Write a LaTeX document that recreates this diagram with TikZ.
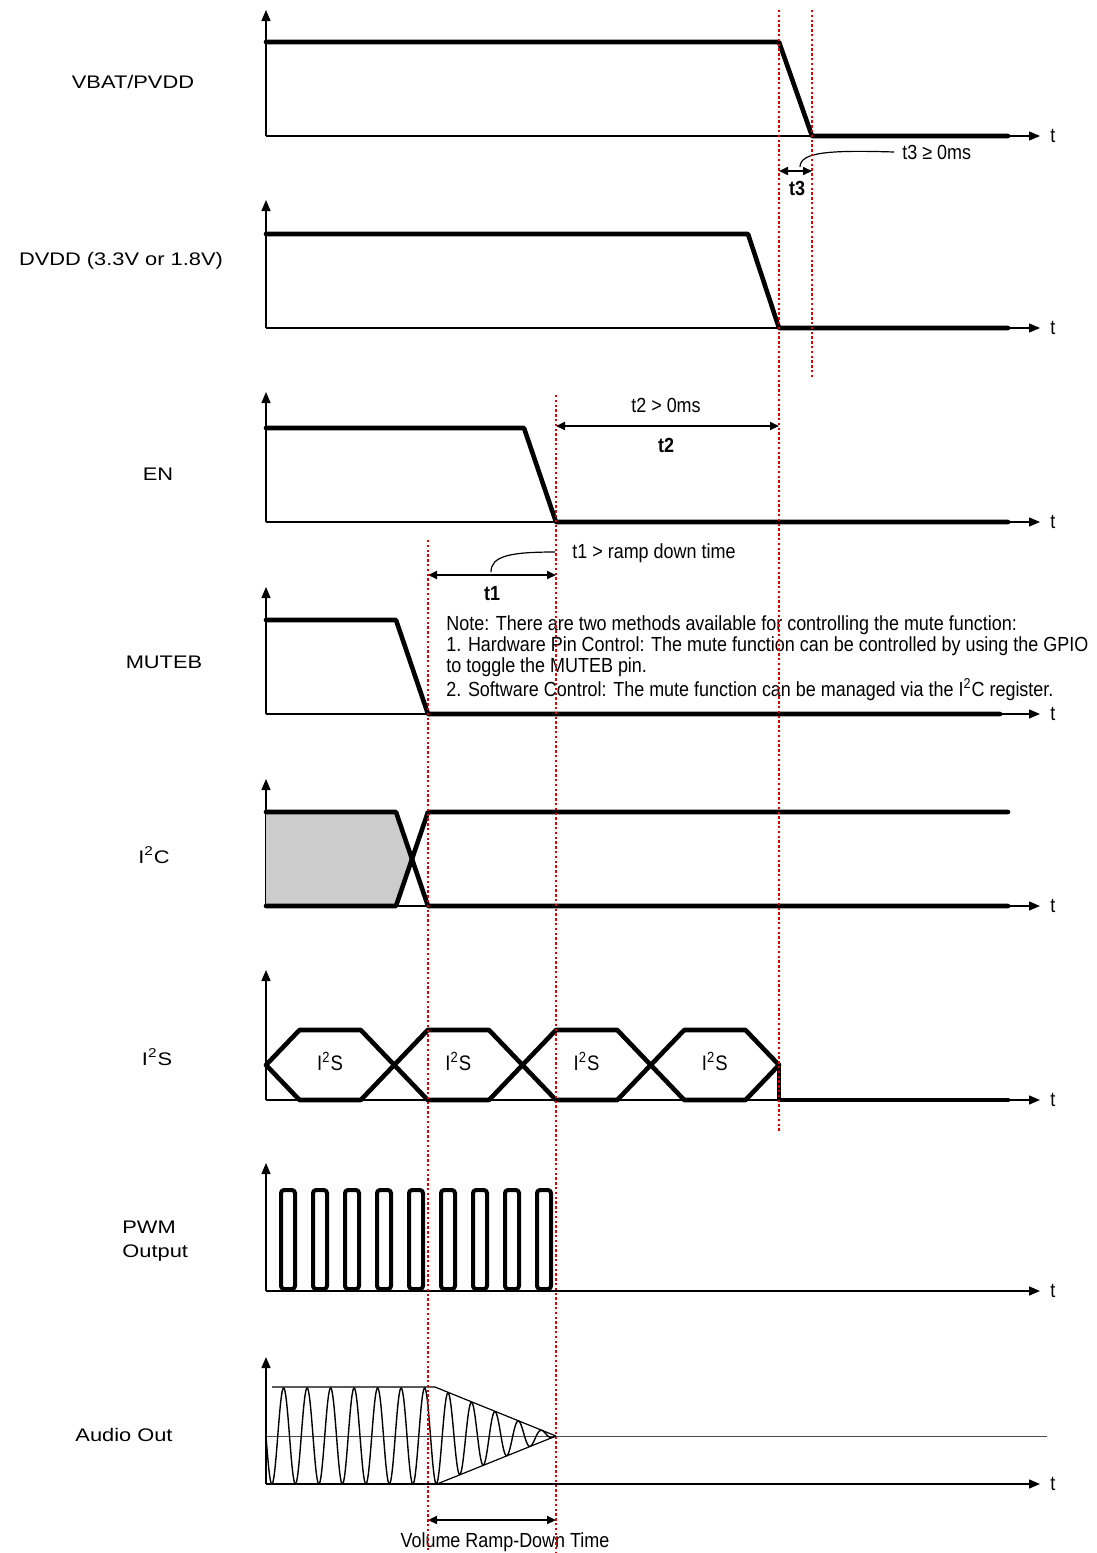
\documentclass[tikz,border=0pt]{standalone}
\usepackage{fontspec}
\setmainfont{Liberation Sans}
\newfontfamily\widefont[FakeStretch=1.2]{Liberation Sans}
\newfontfamily\narrowfont[FakeStretch=0.88]{Liberation Sans}
\usetikzlibrary{arrows.meta}

\begin{document}
\begin{tikzpicture}[x=0.5pt, y=-0.5pt,
    sig/.style={line width=2.3pt, line join=round, line cap=round},
    axis/.style={line width=0.7pt, -{Triangle[length=5.5pt, width=4.5pt]}},
    guide/.style={draw=red!85!black, line width=0.6pt, dash pattern=on 1.2pt off 1.2pt},
    dim/.style={line width=1pt, {Triangle[length=4.5pt, width=4pt]}-{Triangle[length=4.5pt, width=4pt]}},
    thin/.style={line width=0.6pt},
    signame/.style={font=\widefont\fontsize{9.1}{12}\selectfont, align=left},
    note/.style={font=\narrowfont\fontsize{10.2}{10.5}\selectfont, align=left, inner sep=0pt},
    tbold/.style={font=\narrowfont\bfseries\fontsize{10.2}{10.5}\selectfont, inner sep=0pt},
    tlab/.style={font=\narrowfont\fontsize{10.2}{10.5}\selectfont, anchor=west, inner sep=0pt}
]
    \fill[white] (0,0) rectangle (1097,1553);
    \useasboundingbox (0,0) rectangle (1097,1553);

    % signal names
    \node[signame] (vbat) at (133,82) {VBAT/PVDD};
    \node[signame] (dvdd) at (121,261) {DVDD (3.3V or 1.8V)};
    \node[signame] (en) at (158,474) {EN};
    \node[signame] (muteb) at (164,662) {MUTEB};
    \node[signame] (iic) at (154,855) {I\textsuperscript{2}C};
    \node[signame] (iis) at (157,1057) {I\textsuperscript{2}S};
    \node[signame, anchor=west, inner sep=0pt] (pwm) at (122,1241) {PWM\\Output};
    \node[signame] (audio) at (124,1435) {Audio Out};

    % axes
    \foreach \yt/\yb in {10/136, 200/328, 392/522, 587/714, 779/906, 970/1100, 1163/1291, 1357/1484} {
        \draw[axis] (266,\yb) -- (266,\yt);
        \draw[axis] (266,\yb) -- (1040,\yb);
        \node[tlab] (t\yb) at (1050,\yb) {t};
    }

    % supplies and enable
    \draw[sig] (266,42) -- (779,42) -- (812,136) -- (1008,136);
    \draw[sig] (266,234) -- (748,234) -- (779,328) -- (1008,328);
    \draw[sig] (266,428) -- (524,428) -- (556,522) -- (1008,522);
    \draw[sig] (266,620) -- (396,620) -- (428,714) -- (1000,714);

    % I2C
    \fill[gray!40] (266,812) -- (396,812) -- (412,859) -- (396,906) -- (266,906) -- cycle;
    \draw[sig] (266,812) -- (396,812) -- (428,906) -- (1008,906);
    \draw[sig] (266,906) -- (396,906) -- (428,812) -- (1008,812);

    % I2S
    \foreach \c [count=\i] in {266,394.25,522.5,650.75} {
        \draw[sig] (\c,1065) -- ++(33.5,-35) -- ++(61.25,0) -- ++(33.5,35) -- ++(-33.5,35) -- ++(-61.25,0) -- cycle;
        \node[font=\narrowfont\fontsize{10.5}{12}\selectfont] (word\i) at ({\c+64},1061) {I\textsuperscript{2}S};
    }
    \draw[sig] (779,1065) -- (779,1100) -- (1008,1100);

    % PWM
    \foreach \k in {0,...,8}
        \draw[sig, line width=2pt, rounded corners=1.5pt] ({281+32*\k},1190) rectangle ({295+32*\k},1289);

    % audio out
    \draw[line width=0.5pt, black!70] (266,1436) -- (1047,1436);
    \draw[thin] (272,1387) -- (435,1387) -- (556,1436);
    \draw[thin] (437,1484) -- (556,1436);
    \draw[line width=0.7pt] plot[domain=266:556, samples=500] (\x, {1436 + min(48, 0.4*(556-\x))*sin(15.3191*(\x-266))});

    % timing marks
    \coordinate (t3a) at (779,171);
    \coordinate (t3b) at (812,171);
    \draw[dim] (t3a) -- (t3b);
    \node[tbold] (t3) at (797,188) {t3};
    \node[tlab] (t3txt) at (902,152) {t3 ≥ 0ms};
    \draw[thin] (800,167) .. controls (800,152) and (830,150) .. ([xshift=-4pt]t3txt.west);

    \coordinate (t2a) at (556,426);
    \coordinate (t2b) at (779,426);
    \draw[dim] (t2a) -- (t2b);
    \node[note] (t2txt) at (666,405) {t2 > 0ms};
    \node[tbold] (t2) at (666,445) {t2};

    \coordinate (t1a) at (428,575);
    \coordinate (t1b) at (556,575);
    \draw[dim] (t1a) -- (t1b);
    \node[tbold] (t1) at (492,594) {t1};
    \node[tlab] (t1txt) at (572,553) {t1 > ramp down time};
    \draw[thin] (491,572) .. controls (491,556) and (510,552) .. (555,552);

    \node[note, anchor=west] (mutenote) at (446,658) {Note: There are two methods available for controlling the mute function:\\
        1. Hardware Pin Control: The mute function can be controlled by using the GPIO\\
        to toggle the MUTEB pin.\\
        2. Software Control: The mute function can be managed via the I\textsuperscript{2}C register.};

    \coordinate (rda) at (428,1520);
    \coordinate (rdb) at (556,1520);
    \draw[dim] (rda) -- (rdb);
    \node[note] (ramp) at (505,1542) {Volume Ramp-Down Time};

    % guide lines
    \draw[guide] (779,10) -- (779,1133);
    \draw[guide] (812,10) -- (812,378);
    \draw[guide] (556,395) -- (556,1553);
    \draw[guide] (428,540) -- (428,1553);
\end{tikzpicture}
\end{document}
